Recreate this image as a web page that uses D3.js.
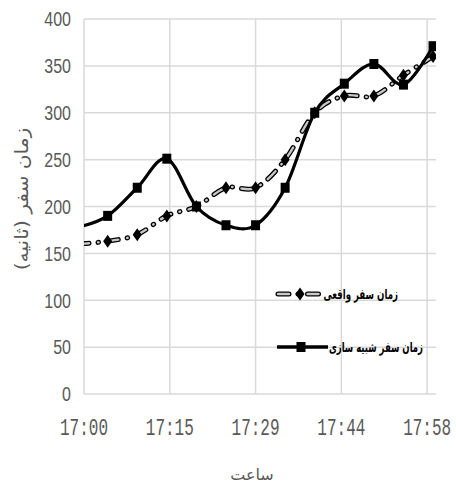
<!DOCTYPE html>
<html><head><meta charset="utf-8">
<script src="https://cdn.jsdelivr.net/npm/d3@7"></script>
<style>body{margin:0;background:#fff}svg{display:block}</style>
</head><body>
<svg id="c" width="456" height="487"></svg>
<script>
// minutes after 17:00
const times = [-1, 4, 9, 14, 19, 24, 29, 34, 39, 44, 49, 54, 59];
const realTime = [160, 163, 170, 190, 200, 220, 220, 250, 300, 318, 318, 340, 360];
const simTime  = [178, 190, 220, 251, 200, 180, 180, 220, 300, 331, 352, 330, 371];
const xTickValues = [0, 14.5, 29, 43.5, 58];
const xTickLabels = ["17:00", "17:15", "17:29", "17:44", "17:58"];
const yTicks = [0, 50, 100, 150, 200, 250, 300, 350, 400];
const seriesNames = ["زمان سفر واقعی", "زمان سفر شبیه سازی"];
const yTitle = "زمان سفر (ثانیه)";
const xTitle = "ساعت";

const svg = d3.select("#c");
const x = d3.scaleLinear().domain([0, 59.5]).range([84, 436]);
const y = d3.scaleLinear().domain([0, 400]).range([394, 19]);
const grid = "#d9d9d9", txt = "#595959";

// gridlines
svg.append("g").selectAll("line").data(yTicks).join("line")
  .attr("x1", x(0)).attr("x2", x(59.5))
  .attr("y1", d => y(d)).attr("y2", d => y(d))
  .attr("stroke", grid).attr("stroke-width", 1.5);
svg.append("g").selectAll("line").data(xTickValues).join("line")
  .attr("x1", d => x(d)).attr("x2", d => x(d))
  .attr("y1", y(0)).attr("y2", y(400))
  .attr("stroke", grid).attr("stroke-width", 1.5);

// y tick labels
svg.append("g").selectAll("text").data(yTicks).join("text")
  .attr("transform", d => `translate(71,${y(d)}) scale(1,1.3)`)
  .attr("text-anchor", "end").attr("dominant-baseline", "central")
  .attr("font-family", "Liberation Sans, Arial, sans-serif").attr("font-size", 16)
  .attr("fill", txt).text(d => d);

// x tick labels
svg.append("g").selectAll("text").data(xTickValues).join("text")
  .attr("transform", d => `translate(${x(d)},429) scale(1,1.5)`)
  .attr("text-anchor", "middle").attr("dominant-baseline", "central")
  .attr("font-family", "Liberation Mono, DejaVu Sans Mono, monospace").attr("font-size", 16)
  .attr("fill", txt).text((d, i) => xTickLabels[i]);

// titles
svg.append("text").attr("transform", "translate(22,199) rotate(-90) scale(1.12,1)")
  .attr("text-anchor", "middle").attr("dominant-baseline", "central")
  .attr("font-family", "DejaVu Sans, sans-serif").attr("font-size", 18)
  .attr("fill", txt).text(yTitle);
svg.append("text").attr("x", 252).attr("y", 474)
  .attr("text-anchor", "middle").attr("dominant-baseline", "central")
  .attr("font-family", "DejaVu Sans, sans-serif").attr("font-size", 16)
  .attr("fill", txt).text(xTitle);

// clip
svg.append("clipPath").attr("id", "pc").append("rect")
  .attr("x", x(0)).attr("y", 0).attr("width", x(59.5) - x(0)).attr("height", 487);

const curve = d3.curveCardinal.tension(0);
const realData = times.map((t, i) => ({t, v: realTime[i]}));
const simData = times.map((t, i) => ({t, v: simTime[i]}));
const line = d3.line().x(d => x(d.t)).y(d => y(d.v)).curve(curve);

const plot = svg.append("g").attr("clip-path", "url(#pc)");
const dash = "11,9,0.5,9";
function drawReal(g, path) {
  g.append("path").attr("d", path).attr("fill", "none").attr("stroke", "#000")
    .attr("stroke-width", 5).attr("stroke-dasharray", dash).attr("stroke-linecap", "round");
  g.append("path").attr("d", path).attr("fill", "none").attr("stroke", "#c8c8c8")
    .attr("stroke-width", 2.4).attr("stroke-dasharray", dash).attr("stroke-linecap", "round");
}
drawReal(plot, line(realData));
plot.append("path").attr("d", line(simData)).attr("fill", "none")
  .attr("stroke", "#000").attr("stroke-width", 3.2);

const diamond = "M0,-6.5L4.5,0L0,6.5L-4.5,0Z";
plot.append("g").selectAll("path").data(realData).join("path")
  .attr("transform", d => `translate(${x(d.t)},${y(d.v)})`)
  .attr("d", diamond).attr("fill", "#000");
plot.append("g").selectAll("rect").data(simData).join("rect")
  .attr("x", d => x(d.t) - 4.5).attr("y", d => y(d.v) - 5)
  .attr("width", 9).attr("height", 10).attr("fill", "#000");

// legend
const lg = svg.append("g");
const l1 = lg.append("g");
drawReal(l1, "M278,294L320,294");
l1.append("path").attr("transform", "translate(300,294)").attr("d", diamond).attr("fill", "#000");
lg.append("text").attr("transform", "translate(398,294) scale(0.72,1.15)").attr("text-anchor", "end")
  .attr("dominant-baseline", "central").attr("font-family", "DejaVu Sans, sans-serif")
  .attr("font-size", 12).attr("font-weight", "bold").attr("fill", "#000").text(seriesNames[0]);
lg.append("line").attr("x1", 277).attr("x2", 328).attr("y1", 347).attr("y2", 347)
  .attr("stroke", "#000").attr("stroke-width", 3.5);
lg.append("rect").attr("x", 296.5).attr("y", 342).attr("width", 9).attr("height", 10).attr("fill", "#000");
lg.append("text").attr("transform", "translate(423,347) scale(0.71,1.15)").attr("text-anchor", "end")
  .attr("dominant-baseline", "central").attr("font-family", "DejaVu Sans, sans-serif")
  .attr("font-size", 12).attr("font-weight", "bold").attr("fill", "#000").text(seriesNames[1]);
</script>
</body></html>
